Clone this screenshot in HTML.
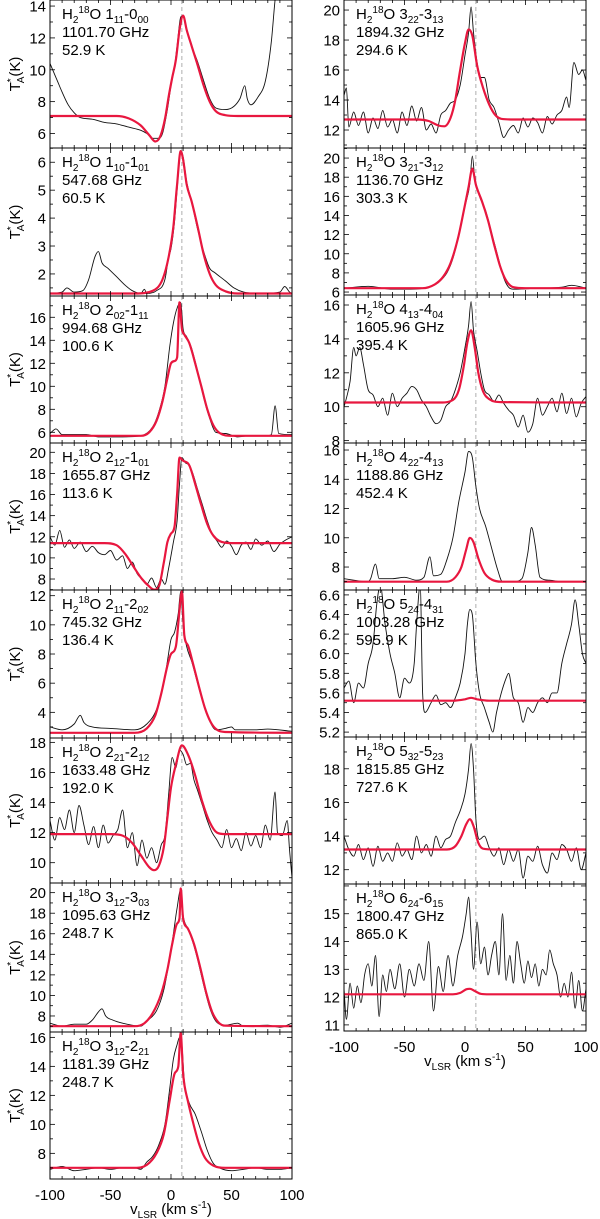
<!DOCTYPE html>
<html><head><meta charset="utf-8"><style>
body{margin:0;background:#fff;}
svg{display:block;font-family:"Liberation Sans",sans-serif;}
</style></head><body>
<svg id="chart" width="600" height="1219" viewBox="0 0 600 1219" xmlns="http://www.w3.org/2000/svg"></svg>
<script>
// ---- data ----
const velTicks = [-100, -50, 0, 50, 100];
const vSys = 9;
const obs_L1 = [[-100,10.4],[-95,9.5],[-90,8.6],[-85,7.8],[-80,7.3],[-75,7.0],[-65,6.9],[-55,6.7],[-45,6.6],[-35,6.4],[-25,6.2],[-20,6.0],[-15,5.7],[-10,5.7],[-7,6.0],[-3,7.5],[0,9.0],[3,10.2],[5,11.5],[8,13.3],[10,13.4],[13,12.5],[17,11.5],[22,10.5],[27,9.3],[32,8.2],[37,7.6],[45,7.5],[52,7.7],[57,8.2],[61,9.0],[63,8.2],[66,7.8],[72,8.3],[78,9.3],[83,11.8],[86,14.4],[88,15.5]];
const mod_L1 = [[-100,7.1],[-45,7.1],[-35,6.95],[-25,6.5],[-18,5.9],[-13,5.5],[-9,5.8],[-5,6.9],[-2,8.3],[1,9.5],[4,10.6],[7,12.5],[10,13.4],[13,12.5],[17,11.5],[22,10.3],[27,9.0],[32,8.0],[37,7.4],[45,7.15],[55,7.1],[100,7.1]];
const obs_L2 = [[-100,1.3],[-90,1.35],[-86,1.5],[-80,1.35],[-73,1.4],[-68,1.8],[-63,2.6],[-60,2.8],[-57,2.4],[-52,2.2],[-45,1.9],[-38,1.6],[-32,1.4],[-25,1.3],[-22,1.45],[-20,1.3],[-12,1.4],[-5,1.8],[-2,2.6],[0,2.9],[3,3.9],[5,5.0],[8,6.4],[10,6.2],[13,5.3],[17,4.6],[22,3.6],[27,2.8],[32,2.2],[36,2.05],[45,1.75],[52,1.5],[60,1.35],[75,1.3],[90,1.35],[94,1.55],[98,1.35],[100,1.3]];
const mod_L2 = [[-100,1.3],[-30,1.3],[-15,1.4],[-7,1.8],[-2,2.6],[2,3.7],[5,5.2],[8,6.4],[10,6.1],[13,5.2],[17,4.6],[22,3.7],[27,2.7],[32,2.0],[37,1.6],[45,1.38],[55,1.3],[100,1.3]];
const obs_L3 = [[-100,5.9],[-95,6.3],[-90,5.8],[-70,5.8],[-60,5.6],[-40,5.6],[-25,5.7],[-15,6.5],[-10,7.8],[-5,10.0],[-1,13.5],[2,15.5],[5,16.8],[8,17.3],[10,15.0],[13,14.3],[17,13.3],[22,11.3],[27,9.0],[32,7.2],[37,6.0],[45,5.9],[55,5.6],[65,5.7],[78,5.7],[83,5.8],[86,8.3],[89,5.9],[100,5.8]];
const mod_L3 = [[-100,5.7],[-25,5.7],[-18,6.0],[-12,7.0],[-7,8.7],[-3,10.7],[0,12.0],[3,12.2],[5,12.5],[7,17.3],[9,15.0],[11,14.5],[15,13.8],[20,12.0],[25,10.0],[30,8.0],[35,6.6],[40,5.95],[50,5.7],[100,5.7]];
const obs_L4 = [[-100,12],[-96,11.2],[-92,12.6],[-88,11],[-84,11.7],[-80,10.9],[-75,11.5],[-70,10.6],[-65,11.1],[-60,10.5],[-55,10.3],[-50,10.7],[-45,9.8],[-40,10.2],[-36,9.0],[-32,9.6],[-28,8.5],[-24,8.0],[-20,7.5],[-16,8.1],[-12,7.2],[-8,8.0],[-5,7.5],[-2,9.0],[2,11.5],[5,13.5],[7,17],[9,19.5],[12,19.0],[15,18.8],[18,18.0],[22,16.5],[26,15],[30,13.5],[34,12.3],[38,11.6],[42,11.0],[46,11.6],[50,11.1],[54,10.3],[58,11.2],[62,11.5],[66,10.8],[70,11.8],[75,11.2],[80,11.6],[85,10.6],[90,11.3],[95,11.7],[100,12]];
const mod_L4 = [[-100,11.4],[-55,11.4],[-45,11.2],[-38,10.4],[-30,9.0],[-24,8.0],[-18,7.3],[-14,7.0],[-10,7.3],[-6,9.5],[-3,11.5],[0,12.3],[3,13.0],[5,16],[7,19.5],[10,19.2],[15,18.8],[20,17.0],[25,15.0],[30,13.2],[35,12.1],[40,11.6],[50,11.4],[100,11.4]];
const obs_L5 = [[-100,3.0],[-90,2.8],[-80,3.2],[-75,3.8],[-72,3.3],[-65,3.0],[-50,2.9],[-30,2.8],[-20,3.2],[-12,4.2],[-6,6.0],[-3,7.5],[0,9.0],[3,9.5],[6,10.8],[8,12.3],[10,10.0],[13,8.5],[17,7.5],[22,6.0],[27,4.5],[32,3.4],[37,2.8],[45,2.9],[50,3.0],[53,2.8],[70,2.8],[80,2.85],[100,2.7]];
const mod_L5 = [[-100,2.6],[-30,2.6],[-20,2.9],[-13,3.8],[-8,5.3],[-3,7.2],[0,8.0],[4,8.5],[7,11],[9,12.3],[11,9.3],[14,8.6],[18,7.4],[23,5.8],[28,4.3],[33,3.3],[38,2.8],[45,2.65],[100,2.6]];
const obs_L6 = [[-100,12.8],[-96,11.5],[-92,13.0],[-88,12.2],[-84,13.5],[-80,12.0],[-76,13.8],[-72,12.5],[-68,11.2],[-64,12.4],[-60,11.0],[-56,12.5],[-52,11.3],[-48,11.8],[-44,12.2],[-40,13.5],[-36,11.0],[-32,12.0],[-28,9.8],[-24,11.5],[-20,10.3],[-16,11.0],[-12,10.0],[-8,11.2],[-5,11.8],[-2,14.5],[1,17],[4,16.3],[7,17.5],[10,17.2],[13,16.5],[16,16.6],[19,15.5],[22,14.8],[26,13.8],[30,12.8],[34,12.0],[38,11.5],[42,11.0],[46,12.2],[50,11.0],[54,11.6],[58,10.8],[62,12.0],[66,11.1],[70,11.8],[74,11.0],[78,12.5],[82,11.5],[86,14.7],[88,12.0],[92,11.8],[96,12.8],[98,10.8],[100,9.0]];
const mod_L6 = [[-100,11.9],[-50,11.9],[-40,11.8],[-32,11.3],[-25,10.5],[-18,9.7],[-14,9.5],[-10,9.8],[-6,11.0],[-3,13.0],[0,15.0],[4,16.5],[9,17.8],[14,17.2],[20,15.8],[26,14.0],[32,12.7],[38,12.0],[45,11.9],[100,11.9]];
const obs_L7 = [[-100,7.3],[-90,7.0],[-80,7.2],[-70,7.2],[-65,7.6],[-60,8.4],[-57,8.7],[-54,8.0],[-48,7.6],[-40,7.3],[-25,7.0],[-20,7.5],[-12,8.5],[-6,10.5],[-2,13.0],[2,16.0],[5,18.5],[8,20.3],[10,17.8],[14,16.5],[18,15.2],[22,13.5],[27,11.0],[32,8.8],[37,7.5],[45,7.1],[55,7.3],[60,7.0],[80,7.1],[90,6.9],[100,7.3]];
const mod_L7 = [[-100,7.0],[-30,7.0],[-22,7.3],[-15,8.3],[-8,10.2],[-3,12.5],[1,15.0],[5,17.0],[7,17.5],[8,20.4],[10,17.5],[14,16.5],[19,15.0],[24,12.8],[29,10.3],[34,8.4],[39,7.4],[45,7.05],[100,7.0]];
const obs_L8 = [[-100,6.9],[-90,7.1],[-80,6.8],[-70,6.9],[-60,7.0],[-50,6.9],[-40,7.0],[-30,7.0],[-25,6.9],[-20,7.4],[-15,7.8],[-10,8.6],[-5,10.0],[-1,12.5],[2,14.5],[5,15.5],[7,16.0],[9,15.5],[11,13.0],[15,11.5],[20,10.7],[25,9.5],[30,8.2],[35,7.3],[40,7.0],[50,6.8],[60,6.9],[70,7.0],[80,6.9],[90,6.9],[100,7.0]];
const mod_L8 = [[-100,7.0],[-30,7.0],[-20,7.2],[-12,8.0],[-6,9.3],[-1,11.7],[3,13.5],[6,14.0],[8,16.3],[10,13.5],[14,11.6],[18,10.2],[23,8.7],[28,7.7],[35,7.15],[45,7.0],[100,7.0]];
const obs_R1 = [[-100,14.3],[-98,14.8],[-96,12.2],[-92,13.2],[-88,12.3],[-84,13.2],[-80,11.8],[-76,12.8],[-72,12.1],[-68,13.3],[-64,12.2],[-60,12.7],[-56,11.8],[-52,13.2],[-48,12.3],[-44,13.6],[-40,12.6],[-36,13.5],[-32,12.0],[-28,12.4],[-24,11.8],[-20,13.0],[-16,13.3],[-12,13.8],[-8,14.0],[-4,15.0],[0,17.0],[3,18.5],[5,20.2],[7,18.5],[10,16.5],[13,15.5],[16,15.5],[20,14.0],[24,13.5],[28,12.5],[32,11.5],[36,12.0],[40,12.3],[44,11.8],[48,12.8],[52,12.2],[56,12.8],[60,12.5],[64,11.8],[68,12.9],[72,12.4],[76,13.0],[80,13.3],[84,14.2],[86,13.5],[90,16.5],[94,15.7],[97,16.0],[100,15.3]];
const mod_R1 = [[-100,12.7],[-40,12.7],[-30,12.6],[-22,12.3],[-17,12.25],[-12,12.8],[-8,14.0],[-4,16.0],[0,17.8],[3,18.7],[6,18.3],[10,16.3],[15,14.8],[20,13.7],[25,13.0],[30,12.75],[40,12.7],[100,12.7]];
const obs_R2 = [[-100,6.4],[-80,6.6],[-60,6.3],[-45,6.3],[-30,6.5],[-22,7.0],[-15,8.0],[-10,9.5],[-5,12],[0,15],[4,17.3],[6,20.2],[8,18],[12,16],[17,14.5],[22,12.2],[27,9.8],[32,7.5],[36,6.5],[40,6.3],[60,6.4],[80,6.5],[88,6.7],[100,6.4]];
const mod_R2 = [[-100,6.4],[-35,6.4],[-25,6.8],[-18,7.6],[-12,9.0],[-6,11.5],[-1,14.5],[3,17.0],[6,18.9],[9,17.2],[14,15.5],[19,13.5],[24,11.0],[29,8.7],[34,7.2],[40,6.5],[50,6.4],[100,6.4]];
const obs_R3 = [[-100,10],[-98,10.5],[-95,11.5],[-92,13.5],[-90,13.0],[-87,13.5],[-84,12.5],[-80,11],[-76,10.7],[-72,10.0],[-68,10.5],[-64,9.5],[-60,10.8],[-56,10.0],[-52,10.5],[-48,10.8],[-44,11.2],[-40,11.0],[-36,10.4],[-32,10.0],[-28,9.4],[-24,9.0],[-20,9.2],[-16,10.0],[-12,10.3],[-8,11.0],[-4,12.0],[0,13.5],[3,14.8],[5,16.2],[7,14.5],[10,13.3],[13,12.0],[16,11.0],[20,10.7],[24,10.3],[28,10.7],[32,10.2],[36,9.8],[40,9.5],[44,8.8],[48,9.5],[52,8.5],[56,9.0],[60,10.5],[64,9.5],[68,10.0],[72,10.5],[76,9.7],[80,10.8],[84,9.6],[88,10.5],[92,9.4],[96,10.2],[100,10.6]];
const mod_R3 = [[-100,10.25],[-20,10.25],[-10,10.4],[-5,11.0],[-1,12.4],[2,13.8],[5,14.5],[8,13.5],[11,12.0],[15,10.9],[20,10.45],[30,10.27],[100,10.25]];
const obs_R4 = [[-100,7.2],[-80,7.0],[-78,7.2],[-74,8.2],[-71,7.2],[-60,7.2],[-50,7.3],[-40,7.1],[-34,7.3],[-29,8.7],[-26,7.4],[-20,7.5],[-15,8.5],[-10,10],[-5,12.5],[0,14.5],[3,15.9],[6,15.5],[9,13.5],[12,12],[17,10.8],[22,9.3],[27,7.8],[31,7.0],[40,7.0],[47,7.2],[52,9.0],[55,10.7],[58,9.5],[62,7.3],[70,7.1],[80,7.0],[100,7.0]];
const mod_R4 = [[-100,7.0],[-15,7.0],[-8,7.3],[-3,8.0],[1,9.2],[4,10.0],[7,9.7],[11,8.6],[16,7.6],[22,7.15],[30,7.0],[100,7.0]];
const obs_R5 = [[-100,5.65],[-96,5.72],[-92,5.5],[-88,5.7],[-84,5.65],[-80,5.9],[-76,6.1],[-73,6.5],[-70,6.7],[-66,6.3],[-62,6.0],[-58,5.8],[-54,5.55],[-50,5.75],[-46,5.7],[-42,5.9],[-40,6.3],[-37,6.7],[-35,5.6],[-33,5.4],[-28,5.5],[-24,5.58],[-20,5.48],[-16,5.5],[-12,5.45],[-8,5.55],[-4,5.7],[0,6.0],[2,6.3],[4,6.45],[6,6.4],[9,5.9],[12,5.6],[16,5.45],[20,5.3],[23,5.2],[26,5.4],[30,5.6],[34,5.75],[36,5.8],[40,5.55],[44,5.5],[48,5.3],[52,5.45],[56,5.4],[60,5.5],[64,5.55],[68,5.5],[72,5.6],[76,5.6],[80,5.9],[84,6.1],[88,6.3],[91,6.55],[94,6.3],[97,6.0],[100,5.9]];
const mod_R5 = [[-100,5.52],[-10,5.52],[0,5.535],[5,5.55],[10,5.535],[20,5.52],[100,5.52]];
const obs_R6 = [[-100,14],[-96,13.2],[-92,12.8],[-88,13.5],[-84,12.6],[-80,13.3],[-76,12.2],[-72,13.4],[-68,12.5],[-64,13.0],[-60,12.5],[-56,13.6],[-52,12.8],[-48,13.2],[-44,12.6],[-40,14.0],[-36,13.0],[-32,13.5],[-28,12.8],[-24,14.0],[-20,13.3],[-16,13.8],[-12,14.0],[-8,14.8],[-4,15.5],[0,16.5],[3,18],[5,19.5],[7,18],[9,15],[12,13.8],[16,14.0],[20,13.3],[24,12.8],[28,13.3],[32,12.3],[36,13.2],[40,12.5],[44,13.2],[48,11.5],[52,12.8],[56,12.5],[60,13.4],[64,12.3],[68,11.8],[72,13.0],[76,12.6],[80,13.5],[84,13.2],[88,12.5],[92,13.3],[96,12.0],[100,13.0]];
const mod_R6 = [[-100,13.2],[-15,13.2],[-8,13.4],[-3,14.0],[1,14.7],[4,15.0],[7,14.6],[11,13.6],[15,13.25],[25,13.2],[100,13.2]];
const obs_R7 = [[-100,12.3],[-98,11.2],[-95,12.5],[-92,11.6],[-89,12.4],[-86,11.8],[-83,12.8],[-80,13.2],[-77,12.4],[-74,13.5],[-71,11.3],[-68,12.8],[-65,12.2],[-62,13.0],[-58,12.3],[-54,13.2],[-50,12.0],[-46,13.0],[-42,12.4],[-38,13.2],[-34,12.6],[-30,14.0],[-26,11.5],[-22,13.1],[-18,12.2],[-14,13.5],[-10,12.4],[-6,13.5],[-2,14.2],[1,15.0],[3,15.6],[5,14.3],[7,13.0],[10,14.7],[13,13.2],[16,13.8],[19,12.8],[22,13.5],[25,14.0],[28,12.8],[31,15.0],[34,12.6],[37,13.5],[40,12.5],[43,14.0],[46,13.2],[49,12.5],[52,13.3],[55,12.7],[58,13.2],[61,12.4],[64,13.0],[67,12.8],[70,13.7],[73,13.2],[76,12.8],[79,12.0],[82,12.5],[85,12.0],[88,12.9],[91,11.6],[94,12.6],[97,11.5],[100,12.3]];
const mod_R7 = [[-100,12.1],[-10,12.1],[-4,12.15],[1,12.28],[4,12.3],[8,12.22],[13,12.12],[20,12.1],[100,12.1]];

const panelIds = ['L1','L2','L3','L4','L5','L6','L7','L8','R1','R2','R3','R4','R5','R6','R7'];
const yRanges = [[5.09,14.38],[1.21,6.51],[5.07,17.85],[6.96,20.88],[2.24,12.39],[8.65,18.29],[6.44,20.94],[6.23,16.37],
  [10.8,20.67],[5.69,21.05],[7.86,16.59],[6.43,16.48],[5.15,6.65],[11.15,19.89],[10.78,16.07]];
const yTicks = [[6,8,10,12,14],[2,3,4,5,6],[6,8,10,12,14,16],[8,10,12,14,16,18,20],[4,6,8,10,12],[10,12,14,16,18],[8,10,12,14,16,18,20],[8,10,12,14,16],
  [12,14,16,18,20],[6,8,10,12,14,16,18,20],[8,10,12,14,16],[8,10,12,14,16],[5.2,5.4,5.6,5.8,6.0,6.2,6.4,6.6],[12,14,16,18],[11,12,13,14,15]];
const transitions = [['1','11','0','00'],['1','10','1','01'],['2','02','1','11'],['2','12','1','01'],['2','11','2','02'],['2','21','2','12'],['3','12','3','03'],['3','12','2','21'],
  ['3','22','3','13'],['3','21','3','12'],['4','13','4','04'],['4','22','4','13'],['5','24','4','31'],['5','32','5','23'],['6','24','6','15']];
const freqs = ['1101.70 GHz','547.68 GHz','994.68 GHz','1655.87 GHz','745.32 GHz','1633.48 GHz','1095.63 GHz','1181.39 GHz',
  '1894.32 GHz','1136.70 GHz','1605.96 GHz','1188.86 GHz','1003.28 GHz','1815.85 GHz','1800.47 GHz'];
const energies = ['52.9 K','60.5 K','100.6 K','113.6 K','136.4 K','192.0 K','248.7 K','248.7 K',
  '294.6 K','303.3 K','395.4 K','452.4 K','595.9 K','727.6 K','865.0 K'];
const obsAll = [obs_L1,obs_L2,obs_L3,obs_L4,obs_L5,obs_L6,obs_L7,obs_L8,obs_R1,obs_R2,obs_R3,obs_R4,obs_R5,obs_R6,obs_R7];
const modAll = [mod_L1,mod_L2,mod_L3,mod_L4,mod_L5,mod_L6,mod_L7,mod_L8,mod_R1,mod_R2,mod_R3,mod_R4,mod_R5,mod_R6,mod_R7];

// ---- layout ----
const NS = 'http://www.w3.org/2000/svg';
const svg = document.getElementById('chart');
const leftEdges = [0,148,296,443,590,738,883,1032,1179];
const rightEdges = [0,148,295,443,590,737,884,1031];
function mk(tag, attrs, parent){const e=document.createElementNS(NS,tag);for(const k in attrs)e.setAttribute(k,attrs[k]);(parent||svg).appendChild(e);return e;}

// monotone cubic path through screen points
function smoothPath(pts){
  const n=pts.length; if(n<2) return '';
  const dx=[],s=[];
  for(let i=0;i<n-1;i++){dx[i]=pts[i+1][0]-pts[i][0]; s[i]=(pts[i+1][1]-pts[i][1])/dx[i];}
  const m=[s[0]];
  for(let i=1;i<n-1;i++){ m[i]= (s[i-1]*s[i]<=0)?0:(s[i-1]+s[i])/2; }
  m[n-1]=s[n-2];
  for(let i=0;i<n-1;i++){
    if(s[i]===0){m[i]=0;m[i+1]=0;continue;}
    const a=m[i]/s[i], b=m[i+1]/s[i], h=a*a+b*b;
    if(h>9){const t=3/Math.sqrt(h); m[i]=t*a*s[i]; m[i+1]=t*b*s[i];}
  }
  let d='M'+pts[0][0].toFixed(1)+','+pts[0][1].toFixed(1);
  for(let i=0;i<n-1;i++){
    const h=dx[i]/3;
    d+='C'+(pts[i][0]+h).toFixed(1)+','+(pts[i][1]+m[i]*h).toFixed(1)+' '+(pts[i+1][0]-h).toFixed(1)+','+(pts[i+1][1]-m[i+1]*h).toFixed(1)+' '+pts[i+1][0].toFixed(1)+','+pts[i+1][1].toFixed(1);
  }
  return d;
}

panelIds.forEach((id,i)=>{
  const left = id[0]==='L';
  const k = left? i : i-8;
  const edges = left? leftEdges: rightEdges;
  const X0 = left?50:344, X1 = left?292:586;
  const Y0 = edges[k], Y1 = edges[k+1];
  const [ymin,ymax] = yRanges[i];
  const xs = v => X0 + (v+100)/200*(X1-X0);
  const ys = t => Y1 - (t-ymin)/(ymax-ymin)*(Y1-Y0);
  const g = mk('g',{});
  
  
  const clipId='c'+id;
  const cp = mk('clipPath',{id:clipId},g);
  mk('rect',{x:X0,y:Y0,width:X1-X0,height:Y1-Y0},cp);
  const dl = mk('line',{x1:xs(vSys),x2:xs(vSys),y1:Y0,y2:Y1,stroke:'#999','stroke-width':0.8,'stroke-dasharray':'4,3'},g);
  
  
  const scr = arr => arr.map(p=>[xs(p[0]),ys(p[1])]);
  const o = mk('path',{d:smoothPath(scr(obsAll[i])),fill:'none',stroke:'#111','stroke-width':0.9,'clip-path':'url(#'+clipId+')'},g);
  
  
  const m = mk('path',{d:smoothPath(scr(modAll[i])),fill:'none',stroke:'#e8173f','stroke-width':2.2,'stroke-linejoin':'round','clip-path':'url(#'+clipId+')'},g);
  
  
  mk('rect',{x:X0,y:Y0,width:X1-X0,height:Y1-Y0,fill:'none',stroke:'#000','stroke-width':1},g);
  for(let v=-100; v<=100; v+=10){
    const L = v%50===0?5:3;
    mk('line',{x1:xs(v),x2:xs(v),y1:Y1,y2:Y1-L,stroke:'#000','stroke-width':0.8},g);
    mk('line',{x1:xs(v),x2:xs(v),y1:Y0,y2:Y0+L,stroke:'#000','stroke-width':0.8},g);
  }
  const yt = yTicks[i];
  const step = yt[1]-yt[0];
  for(let t=yt[0]-step; t<=yt[yt.length-1]+step+1e-9; t+=step/2){
    const y = ys(t); if(y<Y0-0.5||y>Y1+0.5) continue;
    const major = Math.abs(((t-yt[0])/step) - Math.round((t-yt[0])/step))<1e-6;
    const L = major?5:3;
    mk('line',{x1:X0,x2:X0+L,y1:y,y2:y,stroke:'#000','stroke-width':0.8},g);
    mk('line',{x1:X1,x2:X1-L,y1:y,y2:y,stroke:'#000','stroke-width':0.8},g);
  }
  yt.forEach(t=>{
    const tx = mk('text',{x:X0-4,y:ys(t)+5.5,'font-size':15,'text-anchor':'end'},g);
    
    
    tx.textContent = (id==='R5')? t.toFixed(1) : String(t);
  });
  const tr = transitions[i];
  const lx = X0+12;
  const lab = mk('text',{x:lx,y:Y0+19,'font-size':15},g);
  
  
  lab.innerHTML = 'H<tspan font-size="10" dy="4">2</tspan><tspan font-size="10" dy="-10">18</tspan><tspan dy="6">O '+tr[0]+'</tspan><tspan font-size="10" dy="4">'+tr[1]+'</tspan><tspan dy="-4">-'+tr[2]+'</tspan><tspan font-size="10" dy="4">'+tr[3]+'</tspan>';
  const f = mk('text',{x:lx,y:Y0+37,'font-size':15},g);
  
  
  f.textContent = freqs[i];
  const e = mk('text',{x:lx,y:Y0+55,'font-size':15},g);
  
  
  e.textContent = energies[i];
  if(left){
    const yc=(Y0+Y1)/2;
    const yl = mk('text',{x:0,y:0,'font-size':15,'text-anchor':'middle',transform:'translate(20,'+yc+') rotate(-90)'},g);
    
    
    yl.innerHTML='T<tspan font-size="10" dy="-6">*</tspan><tspan font-size="10" dx="-5" dy="10">A</tspan><tspan dy="-4">(K)</tspan>';
  }
  if((left&&k===7)||(!left&&k===6)){
    velTicks.forEach(v=>{
      const t = mk('text',{x:xs(v),y:Y1+21,'font-size':15,'text-anchor':'middle'},g);
      
      
      t.textContent=String(v);
    });
    const xt = mk('text',{x:(X0+X1)/2,y:Y1+35,'font-size':15,'text-anchor':'middle'},g);
    
    
    xt.innerHTML='v<tspan font-size="10" dy="4">LSR</tspan><tspan dy="-4"> (km s</tspan><tspan font-size="10" dy="-6">-1</tspan><tspan dy="6">)</tspan>';
  }
});
</script>
</body></html>
